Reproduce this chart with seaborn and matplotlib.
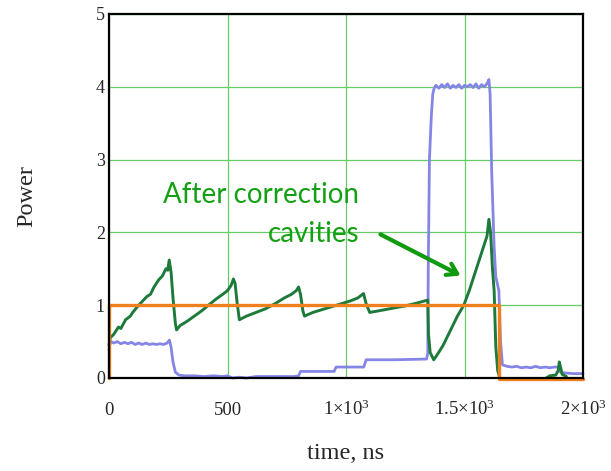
import matplotlib
matplotlib.use("Agg")
import matplotlib.pyplot as plt
import pandas as pd
import seaborn as sns

# Input pulse (orange)
t_input = [0, 0, 1645, 1645, 2000]
p_input = [0, 1.0, 1.0, -0.02, -0.02]

# Output without correction (lavender)
t_plain = [0, 3, 8, 20, 35, 50, 65, 80, 95, 110, 125, 140, 155, 170, 185, 200, 215,
           230, 245, 255, 262, 270, 280, 295, 320, 360, 400, 440, 480, 500, 520, 550,
           580, 620, 700, 780, 800, 808, 880, 950, 958, 1020, 1075, 1085, 1200, 1340,
           1345, 1347, 1352, 1360, 1366, 1372, 1380, 1392, 1404, 1416, 1428, 1440, 1452,
           1464, 1476, 1488, 1500, 1512, 1524, 1536, 1548, 1560, 1572, 1584, 1596, 1603,
           1608, 1615, 1625, 1632, 1645, 1652, 1660, 1680, 1700, 1720, 1740, 1760, 1780,
           1800, 1820, 1840, 1860, 1880, 1895, 1905, 1920, 1960, 2000]
p_plain = [0.38, 0.45, 0.5, 0.48, 0.5, 0.47, 0.49, 0.47, 0.49, 0.46, 0.48, 0.46, 0.48,
           0.46, 0.47, 0.46, 0.47, 0.46, 0.48, 0.52, 0.42, 0.22, 0.08, 0.04, 0.03, 0.03,
           0.02, 0.03, 0.02, 0.03, 0.0, 0.01, 0.0, 0.02, 0.02, 0.02, 0.03, 0.09, 0.09,
           0.09, 0.15, 0.15, 0.15, 0.25, 0.25, 0.26, 0.34, 1.5, 3.0, 3.6, 3.9, 3.98,
           4.02, 3.98, 4.03, 3.99, 4.04, 3.98, 4.02, 3.99, 4.03, 3.98, 4.02, 4.0, 4.03,
           3.99, 4.04, 3.98, 4.03, 4.0, 4.05, 4.1, 3.9, 2.8, 1.8, 1.39, 1.2, 0.5, 0.18,
           0.16, 0.15, 0.16, 0.14, 0.15, 0.14, 0.16, 0.14, 0.15, 0.14, 0.15, 0.15, 0.08,
           0.07, 0.06, 0.06]

# Output after correction cavities (dark green)
t_corr = [0, 5, 20, 40, 50, 70, 90, 100, 120, 140, 160, 175, 190, 210, 225, 240, 248,
          254, 262, 270, 280, 285, 300, 330, 360, 390, 420, 450, 480, 500, 515, 525, 532,
          540, 550, 580, 620, 660, 700, 740, 770, 790, 800, 808, 818, 825, 860, 900,
          940, 980, 1020, 1050, 1074, 1085, 1100, 1150, 1200, 1250, 1300, 1345, 1348,
          1355, 1370, 1385, 1410, 1440, 1470, 1497, 1520, 1540, 1560, 1580, 1595, 1603,
          1610, 1618, 1625, 1632, 1640, 1650, 1840, 1860, 1885, 1895, 1900, 1905, 1912,
          1930]
p_corr = [0.45, 0.55, 0.6, 0.7, 0.68, 0.8, 0.85, 0.9, 0.98, 1.05, 1.12, 1.15, 1.25,
          1.35, 1.4, 1.5, 1.48, 1.62, 1.45, 1.1, 0.75, 0.66, 0.72, 0.78, 0.85, 0.92,
          1.0, 1.08, 1.15, 1.2, 1.27, 1.36, 1.3, 1.05, 0.8, 0.85, 0.9, 0.95, 1.02, 1.1,
          1.15, 1.2, 1.25, 1.15, 0.92, 0.85, 0.9, 0.94, 0.98, 1.02, 1.06, 1.1, 1.16,
          1.02, 0.9, 0.93, 0.96, 0.99, 1.03, 1.07, 0.6, 0.35, 0.25, 0.32, 0.45, 0.65,
          0.85, 1.0, 1.2, 1.4, 1.6, 1.8, 1.95, 2.18, 2.0, 1.5, 1.2, 0.43, 0.1, -0.01,
          -0.01, 0.03, 0.04, 0.1, 0.22, 0.15, 0.05, 0.02]

x_ticks = [0, 500, 1000, 1500, 2000]
x_tick_labels = ["0", "500", r"$\mathregular{1×10^{3}}$",
                 r"$\mathregular{1.5×10^{3}}$", r"$\mathregular{2×10^{3}}$"]
y_ticks = [0, 1, 2, 3, 4, 5]

sns.set_style("white")
plt.rcParams["font.family"] = ["Liberation Serif", "DejaVu Serif"]
plt.rcParams["mathtext.fontset"] = "custom"
plt.rcParams["mathtext.rm"] = "Liberation Serif"
plt.rcParams["mathtext.it"] = "Liberation Serif:italic"

fig = plt.figure(figsize=(6.11, 4.71), dpi=100)
ax = fig.add_axes([0.1784, 0.1975, 0.9542 - 0.1784, 0.9703 - 0.1975])

df_plain = pd.DataFrame({"t": t_plain, "p": p_plain})
df_corr = pd.DataFrame({"t": t_corr, "p": p_corr})
df_input = pd.DataFrame({"t": t_input, "p": p_input})

sns.lineplot(data=df_plain, x="t", y="p", ax=ax, sort=False, estimator=None,
             color="#8585e6", lw=2.0, zorder=3)
sns.lineplot(data=df_corr, x="t", y="p", ax=ax, sort=False, estimator=None,
             color="#1d7a3a", lw=2.1, zorder=4)
sns.lineplot(data=df_input, x="t", y="p", ax=ax, sort=False, estimator=None,
             color="#f0801e", lw=2.4, zorder=5)
for ln in ax.lines:
    ln.set_clip_on(False)

ax.set_xlim(0, 2000)
ax.set_ylim(0, 5)
ax.set_xticks(x_ticks)
ax.set_xticklabels(x_tick_labels)
ax.set_yticks(y_ticks)
ax.tick_params(axis="x", length=0, pad=27, labelsize=13.5)
ax.tick_params(axis="y", length=0, pad=3, labelsize=13)
for lbl in ax.get_xticklabels():
    lbl.set_verticalalignment("baseline")

ax.grid(True, color="#66cc66", lw=0.9)
ax.set_axisbelow(True)
for s in ax.spines.values():
    s.set_color("black")
    s.set_linewidth(1.6)
    s.set_zorder(6)

ax.set_xlabel("time, ns", fontsize=17.5, labelpad=17)
ax.set_ylabel("Power", fontsize=17.5, labelpad=42)

# Annotation
note_color = "#14a014"
ax.text(1055, 2.40, "After correction", ha="right", va="baseline",
        fontsize=20, color=note_color, family=["Lato", "DejaVu Sans"], zorder=7)
ax.text(1055, 1.87, "cavities", ha="right", va="baseline",
        fontsize=20, color=note_color, family=["Lato", "DejaVu Sans"], zorder=7)
ax.annotate("", xy=(1494, 1.39), xytext=(1135, 1.99),
            arrowprops=dict(arrowstyle="->, head_length=0.7, head_width=0.45",
                            color="#109a10", lw=3), zorder=7)

fig.savefig("out.png", dpi=100)
